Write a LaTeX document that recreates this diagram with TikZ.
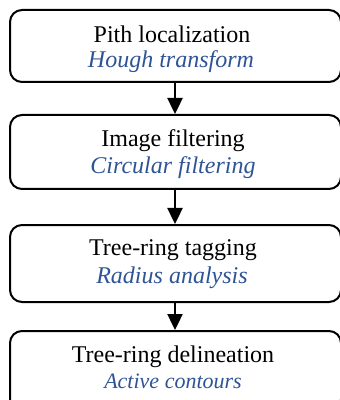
\documentclass[tikz,border=0pt]{standalone}
\usepackage{fontspec}
\setmainfont{Liberation Serif}
\usetikzlibrary{arrows.meta}
\definecolor{subblue}{RGB}{47,84,150}
\begin{document}
\begin{tikzpicture}[x=0.5pt,y=-0.5pt,
  box/.style={draw=black, line width=1pt, rounded corners=6pt},
  maintxt/.style={anchor=base, inner sep=0pt, font=\fontsize{12}{14}\selectfont},
  subtxt/.style={anchor=base, inner sep=0pt, text=subblue, font=\fontsize{12}{14}\selectfont\itshape},
  flow/.style={line width=1.2pt, -{Triangle[width=7.5pt,length=8pt]}}]
\useasboundingbox (0,0) rectangle (340,400);
\begin{scope}
\clip (0,0) rectangle (340,400);
\node[box, minimum width=331*0.5pt, minimum height=72*0.5pt, inner sep=0pt] (b1) at (175.5,46) {};
\node[box, minimum width=331*0.5pt, minimum height=74*0.5pt, inner sep=0pt] (b2) at (175.5,152) {};
\node[box, minimum width=331*0.5pt, minimum height=77*0.5pt, inner sep=0pt] (b3) at (175.5,263.5) {};
\node[box, minimum width=331*0.5pt, minimum height=80*0.5pt, inner sep=0pt] (b4) at (175.5,371) {};
\end{scope}
\node[maintxt] (m1) at (172,43) {Pith localization};
\node[subtxt] (s1) at (171,68) {Hough transform};
\node[maintxt] (m2) at (173,147) {Image filtering};
\node[subtxt] (s2) at (173,174) {Circular filtering};
\node[maintxt] (m3) at (173,255) {Tree-ring tagging};
\node[subtxt] (s3) at (172,283) {Radius analysis};
\node[maintxt] (m4) at (173,362) {Tree-ring delineation};
\node[subtxt, font=\fontsize{11}{13}\selectfont\itshape] (s4) at (173,388) {Active contours};
\draw[flow] (b1.south -| 175,0) -- (b2.north -| 175,0);
\draw[flow] (b2.south -| 175,0) -- (b3.north -| 175,0);
\draw[flow] (b3.south -| 175,0) -- (b4.north -| 175,0);
\end{tikzpicture}
\end{document}
